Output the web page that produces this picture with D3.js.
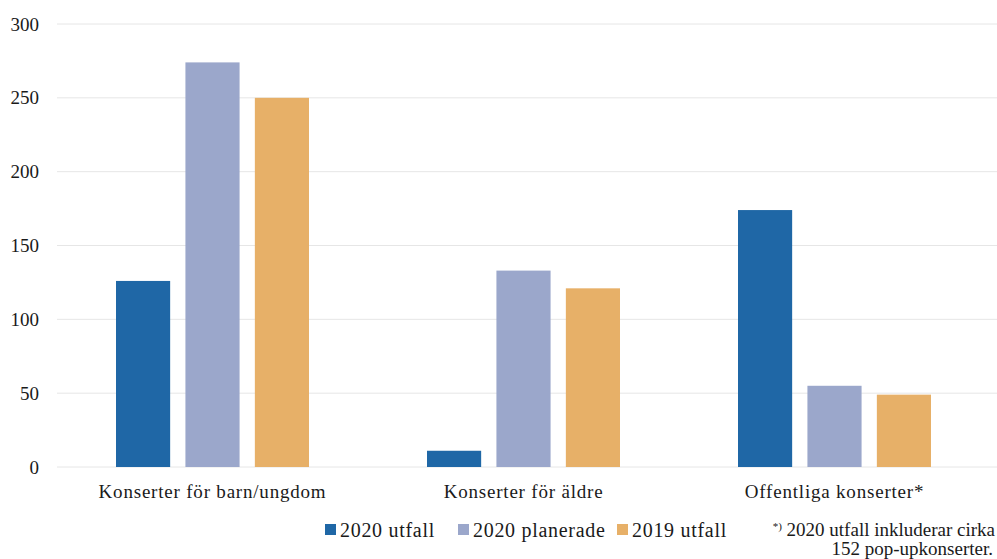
<!DOCTYPE html>
<html>
<head>
<meta charset="utf-8">
<script src="https://cdn.jsdelivr.net/npm/d3@7"></script>
<style>
  body { margin: 0; background: #fff; }
  text { font-family: "Liberation Serif", serif; fill: #1a1a1a; }
</style>
</head>
<body>
<script>
// categories and series
var categories = ["Konserter för barn/ungdom", "Konserter för äldre", "Offentliga konserter*"];
var seriesNames = ["2020 utfall", "2020 planerade", "2019 utfall"];
var utfall2020 = [126, 11, 174];
var planerade2020 = [274, 133, 55];
var utfall2019 = [250, 121, 49];
var yTicks = [0, 50, 100, 150, 200, 250, 300];

var colors = ["#1f67a6", "#9ba7cb", "#e7b068"];
var w = 997;
var h = 559;

var svg = d3.select("body")
  .append("svg")
  .attr("width", w)
  .attr("height", h);

var x = d3.scaleBand()
  .domain(categories)
  .range([57, 990]);

var x1 = d3.scaleBand()
  .domain(seriesNames)
  .range([59, 252])
  .paddingInner(0.22);

var y = d3.scaleLinear()
  .domain([0, 300])
  .range([467, 24]);

// gridlines
svg.selectAll("line.grid")
  .data(yTicks)
  .enter()
  .append("line")
  .attr("x1", 57)
  .attr("x2", 997)
  .attr("y1", function(d) { return y(d); })
  .attr("y2", function(d) { return y(d); })
  .attr("stroke", "#e6e6e6")
  .attr("stroke-width", 1);

// y axis labels
var yAxis = d3.axisLeft(y).tickValues(yTicks).tickSize(0).tickPadding(0);
var yg = svg.append("g")
  .attr("transform", "translate(39,0)")
  .call(yAxis);
yg.select(".domain").remove();
yg.selectAll("text")
  .style("font-family", "Liberation Serif, serif")
  .style("font-size", "19px")
  .attr("fill", "#1a1a1a");

// bars
var rows = categories.map(function(c, i) {
  return [utfall2020[i], planerade2020[i], utfall2019[i]];
});

var groups = svg.selectAll("g.cat")
  .data(rows)
  .enter()
  .append("g")
  .attr("transform", function(d, i) {
    return "translate(" + x(categories[i]) + ",0)";
  });

groups.selectAll("rect")
  .data(function(d) { return d; })
  .enter()
  .append("rect")
  .attr("x", function(d, i) { return x1(seriesNames[i]); })
  .attr("y", function(d) { return y(d); })
  .attr("width", x1.bandwidth())
  .attr("height", function(d) { return y(0) - y(d); })
  .attr("fill", function(d, i) { return colors[i]; });

// category labels
var xAxis = d3.axisBottom(x).tickSize(0).tickPadding(0);
var xg = svg.append("g")
  .attr("transform", "translate(0,484)")
  .call(xAxis);
xg.select(".domain").remove();
xg.selectAll("text")
  .style("font-family", "Liberation Serif, serif")
  .style("font-size", "19px")
  .style("letter-spacing", "0.8px")
  .attr("fill", "#1a1a1a");

// legend
var legendX = [325, 458, 617];
var legend = svg.selectAll("g.legend")
  .data(seriesNames)
  .enter()
  .append("g")
  .attr("transform", function(d, i) {
    return "translate(" + legendX[i] + ",537)";
  });
legend.append("rect")
  .attr("x", 0)
  .attr("y", -13)
  .attr("width", 11)
  .attr("height", 11)
  .attr("fill", function(d, i) { return colors[i]; });
legend.append("text")
  .attr("x", 15)
  .attr("y", 0)
  .style("font-size", "20px")
  .style("letter-spacing", "0.7px")
  .text(function(d) { return d; });

// footnote
var note = svg.append("text")
  .attr("x", 995)
  .attr("y", 536)
  .attr("text-anchor", "end")
  .style("font-size", "19px");
note.append("tspan")
  .attr("font-size", "11px")
  .attr("dy", "-6")
  .text("*)");
note.append("tspan")
  .attr("dy", "6")
  .text(" 2020 utfall inkluderar cirka");

svg.append("text")
  .attr("x", 993)
  .attr("y", 555)
  .attr("text-anchor", "end")
  .style("font-size", "19px")
  .text("152 pop-upkonserter.");
</script>
</body>
</html>
